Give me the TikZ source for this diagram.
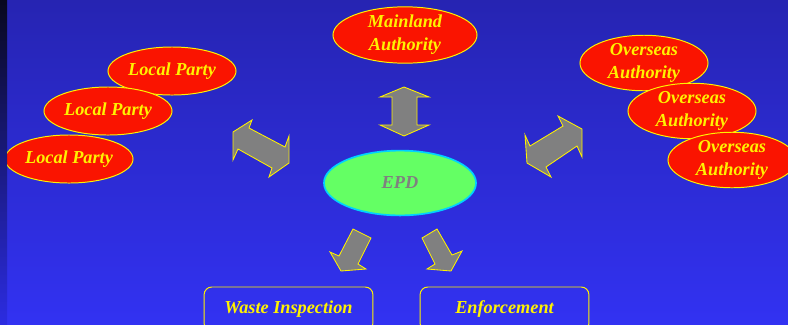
\documentclass[tikz,border=0pt]{standalone}
\usepackage{fontspec}
\setmainfont{Liberation Serif}
\usetikzlibrary{shapes.geometric, positioning}
\definecolor{bgtop}{RGB}{38,36,178}
\definecolor{bgbottom}{RGB}{50,50,242}
\definecolor{striptop}{RGB}{8,8,30}
\definecolor{stripbottom}{RGB}{44,44,225}
\definecolor{partyred}{RGB}{250,20,0}
\definecolor{epdgreen}{RGB}{100,255,100}
\definecolor{epdrim}{RGB}{0,210,255}

\begin{document}
\begin{tikzpicture}[x=0.025cm, y=-0.025cm, font=\fontsize{13}{16.5}\selectfont\bfseries\itshape]
    \tikzstyle{party}=[ellipse, draw=yellow, fill=partyred, line width=0.7pt, text=yellow, inner sep=0pt, minimum width=3.2cm, minimum height=1.2cm, align=center]
    \tikzstyle{centre}=[ellipse, draw=epdrim, fill=epdgreen, line width=1.2pt, text=gray, inner sep=0pt, minimum width=3.8cm, minimum height=1.62cm]
    \tikzstyle{task}=[draw=yellow, line width=0.7pt, rounded corners=5.5pt, text=yellow, minimum width=4.22cm, minimum height=1.1cm]
    \tikzstyle{block arrow}=[draw=yellow, fill=gray, line width=0.6pt]

    \useasboundingbox (0,0) rectangle (788,324);
    \clip (0,0) rectangle (788,324);
    \shade[top color=bgtop, bottom color=bgbottom] (0,0) rectangle (788,324);

    \node[party, minimum width=3.6cm, minimum height=1.4cm] (mainland) at (405,35) {Mainland\\Authority};

    \node[party] (local-1) at (172,71) {Local Party};
    \node[party] (local-2) at (108,111) {Local Party};
    \node[party] (local-3) at (69,159) {Local Party};

    \node[party] (overseas-1) at (644,63) {Overseas\\Authority};
    \node[party] (overseas-2) at (692,111) {Overseas\\Authority};
    \node[party] (overseas-3) at (732,160) {Overseas\\Authority};

    \node[centre] (epd) at (400,183) {EPD};

    \node[task] (inspect) at (288.5,309) {Waste Inspection};
    \node[task] (enforce) at (504.5,309) {Enforcement};

    % block arrows
    \draw[block arrow] (404,87) -- (429,97) -- (417,97) -- (417,125) -- (429,125) -- (404,136) -- (380,125) -- (392,125) -- (392,97) -- (380,97) -- cycle;
    \draw[block arrow] (233,132) -- (252,120) -- (249,128) -- (285,147) -- (289,136) -- (289,163) -- (269,177) -- (272,168) -- (238,149) -- (233,160) -- cycle;
    \draw[block arrow] (525,135) -- (530,146) -- (563,126) -- (558,116) -- (582,129) -- (582,157) -- (577,146) -- (546,167) -- (551,177) -- (527,163) -- cycle;
    \draw[block arrow] (353,229) -- (371,238) -- (358,264) -- (366,269) -- (341,271) -- (330,252) -- (339,256) -- cycle;
    \draw[block arrow] (437,229) -- (422,238) -- (435,264) -- (427,269) -- (451,271) -- (462,251) -- (452,255) -- cycle;

    \shade[top color=striptop, bottom color=stripbottom] (0,0) rectangle (7,324);
\end{tikzpicture}
\end{document}
